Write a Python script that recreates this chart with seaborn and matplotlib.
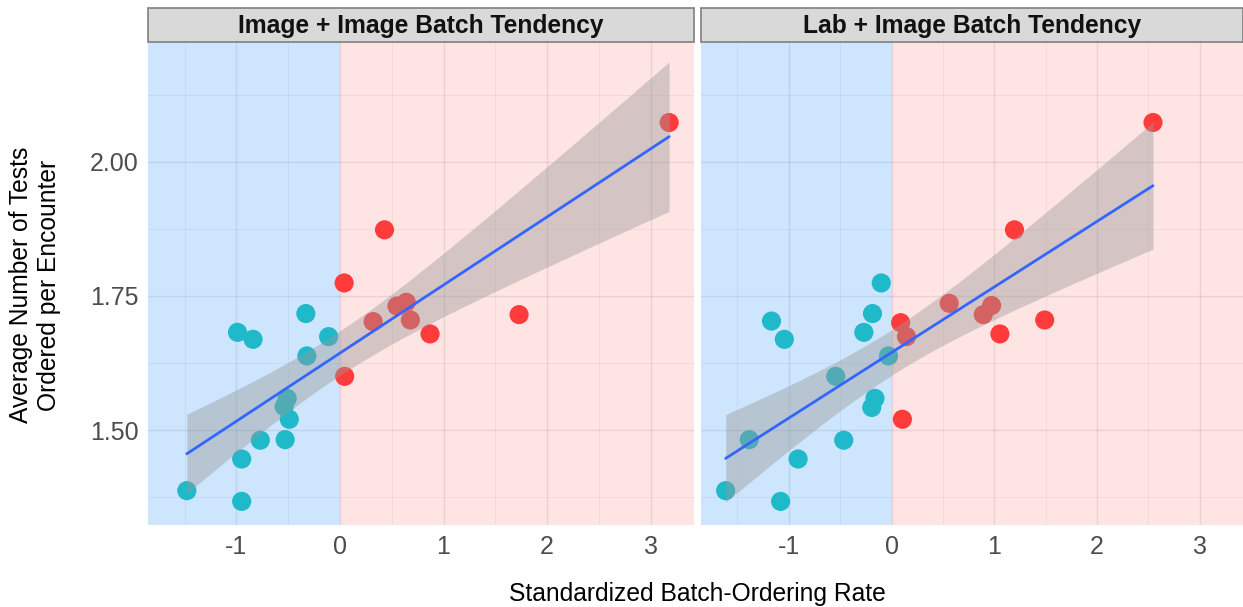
import numpy as np
import pandas as pd
import matplotlib
matplotlib.use("Agg")
import matplotlib.pyplot as plt
from matplotlib.patches import Rectangle
import seaborn as sns

# ---------------- data ----------------
panel_titles = ["Image + Image Batch Tendency", "Lab + Image Batch Tendency"]

left_x_low = [-1.48, -0.95, -0.95, -0.77, -0.53, -0.49, -0.54, -0.51, -0.32, -0.11, -0.84, -0.99, -0.33]
left_y_low = [1.387, 1.367, 1.446, 1.481, 1.482, 1.520, 1.544, 1.559, 1.638, 1.674, 1.669, 1.682, 1.717]
left_x_high = [0.045, 0.04, 0.32, 0.55, 0.64, 0.68, 0.87, 0.43, 1.73, 3.18]
left_y_high = [1.600, 1.774, 1.702, 1.731, 1.738, 1.705, 1.679, 1.873, 1.715, 2.073]

right_x_low = [-1.615, -1.08, -0.91, -1.385, -0.466, -0.193, -0.162, -0.544, -0.03, -0.27, -1.044, -1.169, -0.186, -0.101]
right_y_low = [1.387, 1.367, 1.446, 1.482, 1.481, 1.542, 1.559, 1.600, 1.638, 1.682, 1.669, 1.703, 1.717, 1.774]
right_x_high = [0.105, 0.088, 0.145, 0.561, 0.892, 0.973, 1.054, 1.49, 1.196, 2.544]
right_y_high = [1.520, 1.700, 1.674, 1.736, 1.715, 1.732, 1.679, 1.705, 1.873, 2.073]

x_ticks = [-1, 0, 1, 2, 3]
y_ticks = [1.50, 1.75, 2.00]
y_tick_labels = ["1.50", "1.75", "2.00"]
x_label = "Standardized Batch-Ordering Rate"
y_label = "Average Number of Tests\nOrdered per Encounter"

# ---------------- styling ----------------
sns.set_style("white")
plt.rcParams["font.family"] = ["Liberation Sans", "DejaVu Sans"]

TEAL = "#1FB9C9"
RED = "#FF3B3B"
BLUE_BG = "#CDE5FD"
PINK_BG = "#FFE4E4"
LINE = "#3366FF"
RIBBON = "#999999"

T975 = {20: 2.0860, 21: 2.0796, 22: 2.0739, 23: 2.0687, 24: 2.0639}

frames = []
for title, xl, yl, xh, yh in [
    (panel_titles[0], left_x_low, left_y_low, left_x_high, left_y_high),
    (panel_titles[1], right_x_low, right_y_low, right_x_high, right_y_high),
]:
    frames.append(pd.DataFrame({"panel": title, "x": xl, "y": yl, "grp": "low"}))
    frames.append(pd.DataFrame({"panel": title, "x": xh, "y": yh, "grp": "high"}))
df = pd.concat(frames, ignore_index=True)

W, H = 1243, 607
fig = plt.figure(figsize=(W / 100, H / 100), dpi=100)

panel_px = [(148, 694), (701, 1243)]
top_px, bot_px = 42, 525
strip_top_px = 8

xlim = (-1.855, 3.42)
ylim = (1.323, 2.223)

for i, (title, (lpx, rpx)) in enumerate(zip(panel_titles, panel_px)):
    ax = fig.add_axes([lpx / W, (H - bot_px) / H, (rpx - lpx) / W, (bot_px - top_px) / H])
    sub = df[df.panel == title]

    ax.set_xlim(*xlim)
    ax.set_ylim(*ylim)
    ax.axvspan(xlim[0], 0, color=BLUE_BG, zorder=0, lw=0)
    ax.axvspan(0, xlim[1], color=PINK_BG, zorder=0, lw=0)
    ax.set_axisbelow(False)

    # grid (major + minor)
    for xv in x_ticks:
        ax.axvline(xv, color=(0, 0, 0, 0.08), lw=1.0, zorder=0.5)
    for xv in [-1.5, -0.5, 0.5, 1.5, 2.5]:
        ax.axvline(xv, color=(0, 0, 0, 0.055), lw=0.6, zorder=0.5)
    for yv in y_ticks:
        ax.axhline(yv, color=(0, 0, 0, 0.08), lw=1.0, zorder=0.5)
    for yv in [1.375, 1.625, 1.875, 2.125]:
        ax.axhline(yv, color=(0, 0, 0, 0.055), lw=0.6, zorder=0.5)

    sns.scatterplot(data=sub, x="x", y="y", hue="grp", palette={"low": TEAL, "high": RED},
                    s=190, edgecolor="none", linewidth=0, alpha=1.0, legend=False,
                    ax=ax, zorder=2)

    # linear fit with 95% confidence band (analytical, as in geom_smooth(method="lm"))
    x = sub["x"].to_numpy()
    y = sub["y"].to_numpy()
    n = len(x)
    b1, b0 = np.polyfit(x, y, 1)
    resid = y - (b0 + b1 * x)
    s2 = np.sum(resid ** 2) / (n - 2)
    xm = x.mean()
    sxx = np.sum((x - xm) ** 2)
    xs = np.linspace(x.min(), x.max(), 80)
    yh = b0 + b1 * xs
    se = np.sqrt(s2 * (1.0 / n + (xs - xm) ** 2 / sxx))
    t = T975.get(n - 2, 2.07)
    ax.fill_between(xs, yh - t * se, yh + t * se, color=RIBBON, alpha=0.42, lw=0, zorder=3)
    sns.lineplot(x=xs, y=yh, color=LINE, lw=2.0, ax=ax, zorder=4)

    ax.set_xticks(x_ticks)
    ax.set_xticklabels([str(v) for v in x_ticks])
    ax.set_yticks(y_ticks)
    if i == 0:
        ax.set_yticklabels(y_tick_labels)
    else:
        ax.set_yticklabels([])
    ax.tick_params(axis="both", which="major", length=4, width=0.8, color="#333333",
                   labelsize=18, labelcolor="#4D4D4D", pad=3)
    if i == 1:
        ax.tick_params(axis="y", length=0)
    for sp in ax.spines.values():
        sp.set_visible(False)
    ax.set_xlabel("")
    ax.set_ylabel("")

    # strip
    sax = fig.add_axes([lpx / W, (H - top_px) / H, (rpx - lpx) / W, (top_px - strip_top_px) / H])
    sax.set_xlim(0, 1)
    sax.set_ylim(0, 1)
    sax.axis("off")
    sax.add_patch(Rectangle((0, 0), 1, 1, transform=sax.transAxes, facecolor="#D9D9D9",
                            edgecolor="#7F7F7F", lw=1.2, clip_on=False))
    sax.text(0.5, 0.47, title, ha="center", va="center", fontsize=17.7,
             fontweight="bold", color="#111111")

fig.text(697 / W, 1 - 594 / H, x_label, ha="center", va="center", fontsize=17.7, color="black")
fig.text(35 / W, 1 - 285 / H, y_label, ha="center", va="center", rotation=90,
         fontsize=17.7, color="black", linespacing=1.2)

fig.savefig("out.png", dpi=100, facecolor="white")
